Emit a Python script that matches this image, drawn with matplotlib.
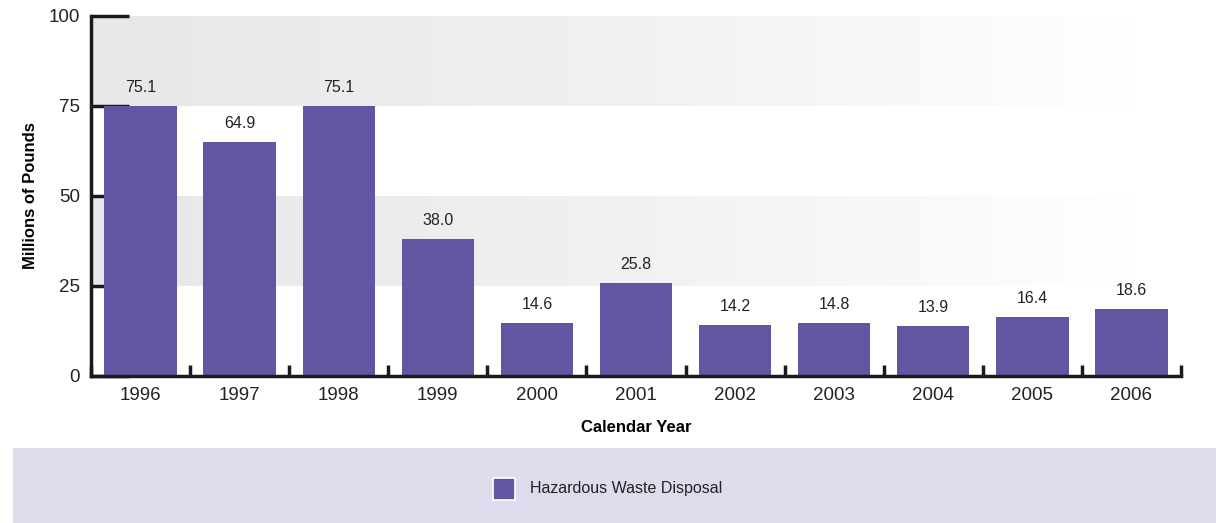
import matplotlib
matplotlib.use("Agg")
import matplotlib.pyplot as plt
import numpy as np
from matplotlib.patches import Rectangle
from matplotlib import font_manager

years = ["1996", "1997", "1998", "1999", "2000", "2001", "2002", "2003", "2004", "2005", "2006"]
values = [75.1, 64.9, 75.1, 38.0, 14.6, 25.8, 14.2, 14.8, 13.9, 16.4, 18.6]
value_labels = ["75.1", "64.9", "75.1", "38.0", "14.6", "25.8", "14.2", "14.8", "13.9", "16.4", "18.6"]
y_ticks = [0, 25, 50, 75, 100]
series_name = "Hazardous Waste Disposal"

avail = {f.name for f in font_manager.fontManager.ttflist}
fam = [f for f in ["Liberation Sans Narrow", "Liberation Sans", "DejaVu Sans"] if f in avail]
plt.rcParams['font.family'] = fam

bar_color = "#6455a3"
W, H = 1216, 523
fig = plt.figure(figsize=(W / 100, H / 100), dpi=100)

# legend background
fig.patches.append(Rectangle((13 / W, 0), 1 - 13 / W, 75 / H, transform=fig.transFigure,
                             facecolor="#dedbec", edgecolor="none", zorder=0))

ax = fig.add_axes([91 / W, 147 / H, (1181 - 91) / W, 360 / H])
x = np.arange(len(years))

# gradient bands
grad = np.linspace(0, 1, 300) ** 1.35
c0 = np.array([0.910, 0.910, 0.918])
img = c0[None, :] * (1 - grad[:, None]) + np.ones(3)[None, :] * grad[:, None]
img = img[None, :, :]
band_right = -0.5 + (1135 - 91) / 99.0
for lo, hi in [(75, 100), (25, 50)]:
    ax.imshow(img, extent=(-0.5, band_right, lo, hi), aspect="auto", zorder=0, interpolation="bilinear")
ax.set_xlim(-0.5, len(years) - 0.5)
ax.set_ylim(0, 100)

ax.bar(x, values, width=0.73, color=bar_color, zorder=2.7)
for xi, v, lab in zip(x, values, value_labels):
    ax.annotate(lab, (xi, v), xytext=(0, 8), textcoords="offset points",
                ha="center", va="bottom", fontsize=11.5, color="#222222")

for s in ["top", "right"]:
    ax.spines[s].set_visible(False)
for s in ["left", "bottom"]:
    ax.spines[s].set_linewidth(2.5)
    ax.spines[s].set_color("#1a1a1a")
    ax.spines[s].set_zorder(3)

ax.set_yticks(y_ticks)
ax.set_yticklabels([str(t) for t in y_ticks])
ax.tick_params(axis="y", direction="in", length=27, width=2.5, color="#1a1a1a",
               labelsize=13.5, pad=8, labelcolor="#222222")
ax.set_xticks(x)
ax.set_xticklabels(years)
ax.tick_params(axis="x", which="major", length=0, labelsize=13.5, pad=8, labelcolor="#222222")
ax.set_xticks(np.arange(-0.5, len(years), 1.0), minor=True)
ax.tick_params(axis="x", which="minor", direction="in", length=8, width=2.5, color="#1a1a1a")

ax.set_xlabel("Calendar Year", fontsize=12, fontweight="bold")
ax.xaxis.set_label_coords(0.5, -0.122)
ax.set_ylabel("Millions of Pounds", fontsize=12, fontweight="bold")
ax.yaxis.set_label_coords(-0.0486, 0.5)
ax.patch.set_alpha(0)

# legend
fig.patches.append(Rectangle((493 / W, (H - 500) / H), 22 / W, 22 / H, transform=fig.transFigure,
                             facecolor=bar_color, edgecolor="white", linewidth=1.2, zorder=2))
fig.text(530 / W, (H - 489) / H, series_name, ha="left", va="center", fontsize=11.5, color="#222222")

fig.savefig("out.png", dpi=100)
